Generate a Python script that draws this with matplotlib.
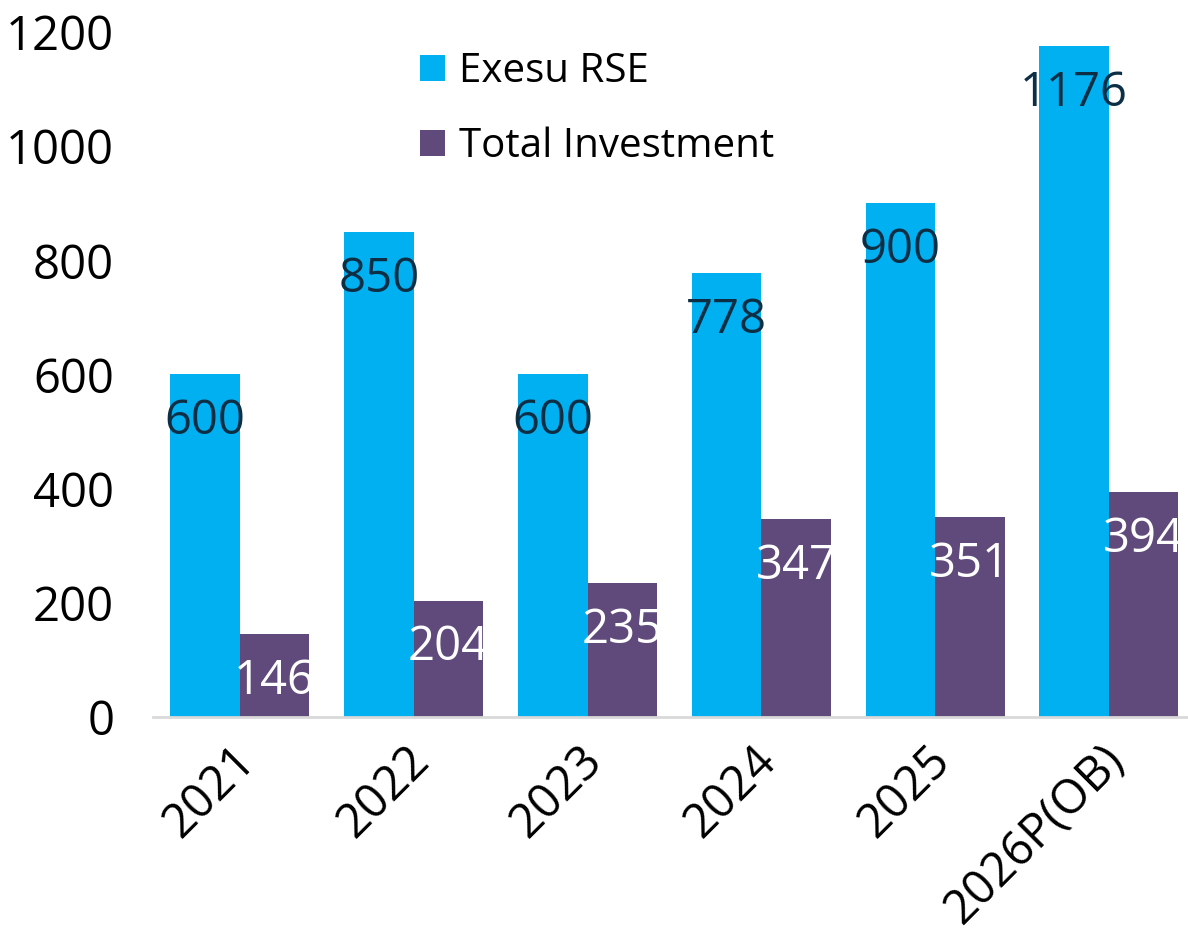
import numpy as np
import matplotlib
matplotlib.use("Agg")
import matplotlib.pyplot as plt

years = ["2021", "2022", "2023", "2024", "2025", "2026P(OB)"]
exesu_rse = [600, 850, 600, 778, 900, 1176]
total_investment = [146, 204, 235, 347, 351, 394]

BLUE = "#00B0F0"
PURPLE = "#604A7B"
NAVY = "#0D2F45"

plt.rcParams["font.family"] = ["Open Sans", "DejaVu Sans"]

fig = plt.figure(figsize=(11.88, 9.35), dpi=100)
ax = fig.add_axes([0.1288, 0.2332, 1 - 0.1288, 0.9658 - 0.2332])

x = np.arange(len(years))
w = 0.40
b1 = ax.bar(x - w / 2, exesu_rse, w, color=BLUE, label="Exesu RSE")
b2 = ax.bar(x + w / 2, total_investment, w, color=PURPLE, label="Total Investment")

# value labels just inside the top of each bar
for xi, v in zip(x, exesu_rse):
    ax.annotate(str(v), (xi - w / 2, v), xytext=(0, -34), textcoords="offset points",
                ha="center", va="center", fontsize=34, color=NAVY)
for xi, v in zip(x, total_investment):
    ax.annotate(str(v), (xi + w / 2, v), xytext=(0, -34), textcoords="offset points",
                ha="center", va="center", fontsize=34, color="white")

ax.set_xlim(-0.5, 5.455)
ax.set_ylim(0, 1200)
ax.set_yticks(range(0, 1201, 200))
ax.tick_params(axis="y", length=0, labelsize=34, pad=28)
ax.tick_params(axis="x", length=0, labelsize=34, pad=14)
ax.set_xticks(x - 0.05)
ax.set_xticklabels(years, rotation=45, ha="right", va="top", rotation_mode="anchor")

for s in ["top", "right", "left"]:
    ax.spines[s].set_visible(False)
ax.spines["bottom"].set_color("#D9D9D9")
ax.spines["bottom"].set_linewidth(2)

fig.legend(handles=[b1, b2], loc="upper left", bbox_to_anchor=(0.337, 0.966),
           frameon=False, fontsize=29, handlelength=0.6, handleheight=0.6,
           handletextpad=0.35, labelspacing=0.85, borderpad=0)

fig.savefig("out.png", dpi=100)
